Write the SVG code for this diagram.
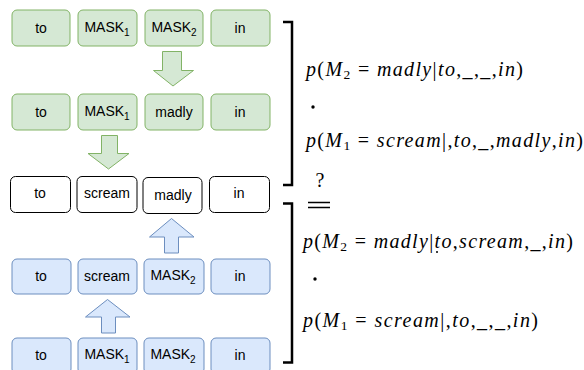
<svg xmlns="http://www.w3.org/2000/svg" width="584" height="370" viewBox="0 0 584 370">
  <style>
    .g rect { fill: #d5e8d4; stroke: #82b366; stroke-width: 1; }
    .b rect { fill: #dae8fc; stroke: #6c8ebf; stroke-width: 1; }
    .w rect { fill: #ffffff; stroke: #000000; stroke-width: 1; }
    .lbl { font-family: "Liberation Sans", Arial, sans-serif; font-size: 14px; fill: #000; text-anchor: middle; }
    .sub { font-size: 10px; }
    .ga { fill: #d5e8d4; stroke: #82b366; stroke-width: 1; }
    .ba { fill: #dae8fc; stroke: #6c8ebf; stroke-width: 1; }
    .math { font-family: "Liberation Serif", "Times New Roman", serif; font-size: 20px; fill: #000; }
    .i { font-style: italic; }
    .ms { font-size: 13.5px; }
    .br { fill: none; stroke: #000; stroke-width: 2.5; }
  </style>

  <!-- row 1: both masked -->
  <g id="r1-to" class="g"><rect x="12" y="10" width="58" height="36" rx="5"/><text class="lbl" x="41" y="33">to</text></g>
  <g id="r1-m1" class="g"><rect x="78" y="10" width="59" height="36" rx="5"/><text class="lbl" x="107" y="32">MASK<tspan class="sub" dy="4">1</tspan></text></g>
  <g id="r1-m2" class="g"><rect x="145" y="10" width="58" height="36" rx="5"/><text class="lbl" x="174" y="32">MASK<tspan class="sub" dy="4">2</tspan></text></g>
  <g id="r1-in" class="g"><rect x="211" y="10" width="59" height="36" rx="5"/><text class="lbl" x="240" y="33">in</text></g>

  <!-- row 2 -->
  <g id="r2-to" class="g"><rect x="12" y="94" width="58" height="36" rx="5"/><text class="lbl" x="41" y="117">to</text></g>
  <g id="r2-m1" class="g"><rect x="78" y="94" width="59" height="36" rx="5"/><text class="lbl" x="107" y="116">MASK<tspan class="sub" dy="4">1</tspan></text></g>
  <g id="r2-madly" class="g"><rect x="145" y="94" width="58" height="36" rx="5"/><text class="lbl" x="174" y="117">madly</text></g>
  <g id="r2-in" class="g"><rect x="211" y="94" width="59" height="36" rx="5"/><text class="lbl" x="240" y="117">in</text></g>

  <!-- row 3: filled sentence -->
  <g id="r3-to" class="w"><rect x="10.5" y="176.5" width="60" height="36" rx="5"/><text class="lbl" x="40" y="198">to</text></g>
  <g id="r3-scream" class="w"><rect x="77" y="176.5" width="60" height="36" rx="5"/><text class="lbl" x="107" y="198">scream</text></g>
  <g id="r3-madly" class="w"><rect x="143" y="177.5" width="59" height="36" rx="5"/><text class="lbl" x="173" y="200">madly</text></g>
  <g id="r3-in" class="w"><rect x="209.5" y="176.5" width="60" height="36" rx="5"/><text class="lbl" x="239" y="198">in</text></g>

  <!-- row 4 -->
  <g id="r4-to" class="b"><rect x="12" y="259" width="59" height="35" rx="5"/><text class="lbl" x="41" y="281">to</text></g>
  <g id="r4-scream" class="b"><rect x="78" y="259" width="59" height="35" rx="5"/><text class="lbl" x="107" y="281">scream</text></g>
  <g id="r4-m2" class="b"><rect x="144" y="259" width="60" height="35" rx="5"/><text class="lbl" x="173" y="280">MASK<tspan class="sub" dy="4">2</tspan></text></g>
  <g id="r4-in" class="b"><rect x="211" y="259" width="59" height="35" rx="5"/><text class="lbl" x="240" y="281">in</text></g>

  <!-- row 5: both masked -->
  <g id="r5-to" class="b"><rect x="12" y="338" width="59" height="36" rx="5"/><text class="lbl" x="41" y="360">to</text></g>
  <g id="r5-m1" class="b"><rect x="78" y="338" width="59" height="36" rx="5"/><text class="lbl" x="107" y="359">MASK<tspan class="sub" dy="4">1</tspan></text></g>
  <g id="r5-m2" class="b"><rect x="144" y="338" width="60" height="36" rx="5"/><text class="lbl" x="173" y="359">MASK<tspan class="sub" dy="4">2</tspan></text></g>
  <g id="r5-in" class="b"><rect x="211" y="338" width="59" height="36" rx="5"/><text class="lbl" x="240" y="360">in</text></g>

  <!-- block arrows between rows -->
  <g id="connectors">
    <path class="ga" d="M162.5,51.5 H181.5 V70.5 H193.5 L173,86 L153.5,70.5 H162.5 Z"/>
    <path class="ga" d="M101.5,135.5 H117.5 V153.5 H129 L108.5,169 L88,153.5 H101.5 Z"/>
    <path class="ba" d="M164.5,253 V237 H149.5 L171.5,218.5 L194,237 H178.5 V253 Z"/>
    <path class="ba" d="M101.5,333 V317 H85.5 L107.5,299.5 L130,317 H115.5 V333 Z"/>

    <!-- brackets -->
    <path class="br" d="M283,22 H292 V185 H283"/>
    <path class="br" d="M283,203.5 H292 V362.5 H283"/>
  </g>

  <!-- probability expressions -->
  <g id="formulas">
    <text class="math" x="306" y="76" textLength="217" lengthAdjust="spacing"><tspan class="i">p</tspan>(<tspan class="i">M</tspan><tspan class="ms" dy="3">2</tspan><tspan dy="-3"> = </tspan><tspan class="i">madly</tspan>|<tspan class="i">to</tspan>,<tspan class="i">_</tspan>,<tspan class="i">_</tspan>,<tspan class="i">in</tspan>)</text>
    <circle cx="313" cy="107" r="1.7" fill="#000"/>
    <text class="math" x="306" y="147" textLength="277" lengthAdjust="spacing"><tspan class="i">p</tspan>(<tspan class="i">M</tspan><tspan class="ms" dy="3">1</tspan><tspan dy="-3"> = </tspan><tspan class="i">scream</tspan>|,<tspan class="i">to</tspan>,<tspan class="i">_</tspan>,<tspan class="i">madly</tspan>,<tspan class="i">in</tspan>)</text>
    <text class="math" x="320" y="187" text-anchor="middle" style="font-size:20px">?</text>
    <path d="M308,202.5 H330 M308,207.5 H330" stroke="#000" stroke-width="1.3"/>
    <text class="math" x="303" y="248" textLength="270" lengthAdjust="spacing"><tspan class="i">p</tspan>(<tspan class="i">M</tspan><tspan class="ms" dy="3">2</tspan><tspan dy="-3"> = </tspan><tspan class="i">madly</tspan>|<tspan class="i">to</tspan>,<tspan class="i">scream</tspan>,<tspan class="i">_</tspan>,<tspan class="i">in</tspan>)</text>
    <circle cx="437" cy="252" r="1" fill="#000"/>
    <circle cx="315" cy="279" r="1.7" fill="#000"/>
    <text class="math" x="303" y="327" textLength="235" lengthAdjust="spacing"><tspan class="i">p</tspan>(<tspan class="i">M</tspan><tspan class="ms" dy="3">1</tspan><tspan dy="-3"> = </tspan><tspan class="i">scream</tspan>|,<tspan class="i">to</tspan>,<tspan class="i">_</tspan>,<tspan class="i">_</tspan>,<tspan class="i">in</tspan>)</text>
  </g>
</svg>
